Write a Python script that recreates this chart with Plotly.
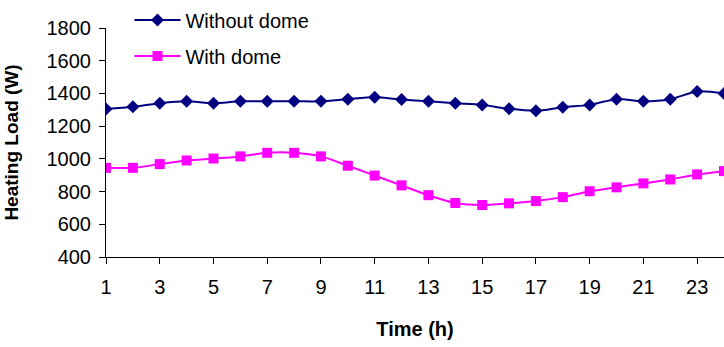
import plotly.graph_objects as go

# Hourly heating load (W) over one day
hours = list(range(1, 25))
without_dome = [1305, 1318, 1340, 1352, 1340, 1352, 1352, 1352, 1352, 1365, 1376, 1363,
                1352, 1340, 1330, 1306, 1294, 1316, 1330, 1365, 1352, 1365, 1412, 1400]
with_dome = [945, 945, 968, 990, 1002, 1015, 1037, 1037, 1015, 958, 898, 838,
             778, 730, 718, 728, 742, 766, 802, 826, 850, 874, 905, 925]

x_ticks = list(range(1, 24, 2))
y_ticks = list(range(400, 1801, 200))

font_family = "Arial, Liberation Sans, sans-serif"

fig = go.Figure()
fig.add_trace(go.Scatter(
    x=hours, y=without_dome, name="Without dome", legendgroup="a",
    mode="lines+markers",
    line=dict(color="#000080", width=2, shape="spline", smoothing=0.8),
    marker=dict(symbol="diamond", size=10, color="#000080"),
))
fig.add_trace(go.Scatter(
    x=hours, y=with_dome, name="With dome", legendgroup="b",
    mode="lines+markers",
    line=dict(color="#FF00FF", width=2, shape="spline", smoothing=0.8),
    marker=dict(symbol="square", size=10, color="#FF00FF"),
))

fig.update_layout(
    width=724, height=347,
    margin=dict(l=106, r=0, t=24, b=90),
    paper_bgcolor="white", plot_bgcolor="white",
    font=dict(family=font_family, size=20, color="black"),
    showlegend=True,
    legend=dict(
        x=0.038, y=1.12, xanchor="left", yanchor="top",
        bgcolor="rgba(0,0,0,0)", traceorder="grouped", tracegroupgap=7,
        itemwidth=46, font=dict(size=20),
    ),
    xaxis=dict(
        range=[1, 24], tickvals=x_ticks, ticktext=[str(v) for v in x_ticks],
        showline=True, linecolor="black", linewidth=1,
        ticks="outside", ticklen=6, tickcolor="black",
        showgrid=False, zeroline=False, ticklabelstandoff=6,
        title=dict(text="<b>Time (h)</b>", font=dict(size=20), standoff=24),
    ),
    yaxis=dict(
        range=[400, 1800], tickvals=y_ticks,
        showline=True, linecolor="black", linewidth=1,
        ticks="outside", ticklen=6, tickcolor="black",
        showgrid=False, zeroline=False, ticklabelstandoff=4,
        title=dict(text="<b>Heating Load (W)</b>", font=dict(size=19), standoff=22),
    ),
)

fig.write_html("out.html")
